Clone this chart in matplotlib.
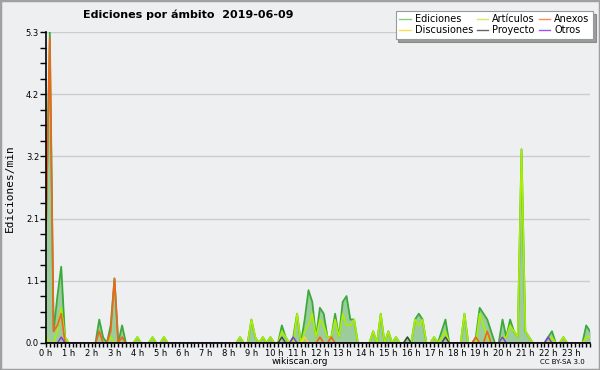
import matplotlib
matplotlib.use("Agg")
import matplotlib.pyplot as plt
from matplotlib.lines import Line2D
from matplotlib.patches import Rectangle
import numpy as np

# 10-minute bins (values = edits per minute), one row per hour
ediciones = [
    2.0, 5.3, 0.2, 0.8, 1.3, 0.1,
    0, 0, 0, 0, 0, 0,
    0, 0, 0.4, 0.1, 0, 0.3,
    1.1, 0, 0.3, 0, 0, 0,
    0.1, 0, 0, 0, 0.1, 0,
    0, 0.1, 0, 0, 0, 0,
    0, 0, 0, 0, 0, 0,
    0, 0, 0, 0, 0, 0,
    0, 0, 0, 0.1, 0, 0,
    0.4, 0.1, 0, 0.1, 0, 0.1,
    0, 0, 0.3, 0.1, 0, 0.1,
    0.5, 0, 0.4, 0.9, 0.7, 0.1,
    0.6, 0.5, 0.1, 0.1, 0.5, 0.1,
    0.7, 0.8, 0.4, 0.4, 0, 0,
    0, 0, 0.2, 0, 0.5, 0,
    0.2, 0, 0.1, 0, 0, 0.1,
    0, 0.4, 0.5, 0.4, 0, 0,
    0.1, 0, 0.2, 0.4, 0, 0,
    0, 0, 0.5, 0, 0, 0.1,
    0.6, 0.5, 0.4, 0.2, 0, 0,
    0.4, 0.1, 0.4, 0.2, 0.1, 3.3,
    0.2, 0.1, 0, 0, 0, 0,
    0.1, 0.2, 0, 0, 0.1, 0,
    0, 0, 0, 0, 0.3, 0.2,
]
articulos = [
    0.1, 0, 0, 0.2, 0.6, 0.1,
    0, 0, 0, 0, 0, 0,
    0, 0, 0, 0, 0, 0.1,
    0, 0, 0, 0, 0, 0,
    0.1, 0, 0, 0, 0.1, 0,
    0, 0.1, 0, 0, 0, 0,
    0, 0, 0, 0, 0, 0,
    0, 0, 0, 0, 0, 0,
    0, 0, 0, 0.1, 0, 0,
    0.4, 0.1, 0, 0.1, 0, 0.1,
    0, 0, 0.2, 0.1, 0, 0,
    0.5, 0, 0.2, 0.3, 0.5, 0.1,
    0.4, 0.3, 0.1, 0.1, 0.4, 0.1,
    0.5, 0.3, 0.3, 0.4, 0, 0,
    0, 0, 0.2, 0, 0.5, 0,
    0.2, 0, 0.1, 0, 0, 0,
    0, 0.4, 0.3, 0.4, 0, 0,
    0.1, 0, 0.1, 0.2, 0, 0,
    0, 0, 0.5, 0, 0, 0,
    0.5, 0.3, 0.1, 0, 0, 0,
    0.1, 0.1, 0.3, 0.2, 0.1, 3.3,
    0.2, 0.1, 0, 0, 0, 0,
    0, 0.1, 0, 0, 0.1, 0,
    0, 0, 0, 0, 0.1, 0.1,
]
anexos = [
    1.9, 5.2, 0.2, 0.3, 0.5, 0,
    0, 0, 0, 0, 0, 0,
    0, 0, 0.2, 0, 0, 0.2,
    1.1, 0, 0.1, 0, 0, 0,
] + [0] * 48 + [
    0.1, 0, 0, 0.1, 0, 0,
] + [0] * 30 + [
    0, 0, 0, 0, 0, 0.1,
    0, 0, 0.2, 0, 0, 0,
] + [0] * 24
discusiones = [0] * 68 + [0.1] + [0] * 75
proyecto = [0] * 62 + [0.1] + [0] * 32 + [0.1] + [0] * 9 + [0.1] + [0] * 38
otros = ([0] * 4 + [0.1] + [0] * 60 + [0.1] + [0] * 54 + [0.1] + [0] * 11
         + [0.1] + [0] * 11)

hour_labels = [f"{h} h" for h in range(24)]
ytick_labels = ["0.0", "1.1", "2.1", "3.2", "4.2", "5.3"]
ymax = 5.3

t = np.arange(len(ediciones)) / 6.0

bg = "#eeeff1"
fig = plt.figure(figsize=(6, 3.7), dpi=100, facecolor=bg)
ax = fig.add_axes([46 / 600, 27 / 370, 544 / 600, 311 / 370])
ax.set_facecolor(bg)

ax.fill_between(t, ediciones, 0, color="#9ccb9c", lw=0, zorder=1)
ax.plot(t, ediciones, color="#3aab3a", lw=1.3, zorder=2)
ax.plot(t, articulos, color="#aaee00", lw=1.2, zorder=2.1)
ax.plot(t, anexos, color="#f2661a", lw=1.2, zorder=2.2)
ax.plot(t, discusiones, color="#ffd633", lw=1.1, zorder=2.3)
ax.plot(t, proyecto, color="#444444", lw=1.0, zorder=2.4)
ax.plot(t, otros, color="#8a33e0", lw=1.0, zorder=2.5)

ax.set_xlim(0, t[-1])
ax.set_ylim(0, ymax)

yt = np.linspace(0, ymax, 6)
ax.set_yticks(yt)
ax.set_yticklabels(ytick_labels, fontsize=6)
ax.set_yticks(np.linspace(0, ymax, 21), minor=True)
ax.set_xticks(np.arange(24))
ax.set_xticklabels(hour_labels, fontsize=6)
ax.set_xticks(t, minor=True)
ax.tick_params(axis="both", which="both", direction="out", length=3, width=1,
               colors="black", pad=1)
ax.tick_params(axis="y", which="both", length=4, pad=1)
ax.grid(axis="y", which="major", color="#cccccc", lw=1)
ax.set_axisbelow(True)
for s in ("top", "right"):
    ax.spines[s].set_visible(False)
for s in ("left", "bottom"):
    ax.spines[s].set_linewidth(1.2)
    ax.spines[s].set_zorder(5)

fig.text(188 / 600, 1 - 15 / 370, "Ediciones por ámbito  2019-06-09",
         ha="center", va="center", fontsize=8, fontweight="bold")
fig.text(10 / 600, 1 - 188 / 370, "Ediciones/min", rotation=90, ha="center",
         va="center", fontsize=8, family="DejaVu Sans Mono")
fig.text(300 / 600, 1 - 362 / 370, "wikiscan.org", ha="center", va="center",
         fontsize=6.5)
fig.text(562 / 600, 1 - 362 / 370, "CC BY-SA 3.0", ha="center", va="center",
         fontsize=5)

handles = [
    Line2D([], [], color="#88cc88", lw=1),
    Line2D([], [], color="#ffdd55", lw=1),
    Line2D([], [], color="#ccee66", lw=1),
    Line2D([], [], color="#666666", lw=1),
    Line2D([], [], color="#ff8855", lw=1),
    Line2D([], [], color="#9955ee", lw=1),
]
labels = ["Ediciones", "Discusiones", "Artículos", "Proyecto", "Anexos", "Otros"]
leg = fig.legend(handles, labels, ncol=3, loc="upper right",
                 bbox_to_anchor=(593 / 600, 1 - 11 / 370), fontsize=7,
                 frameon=True, fancybox=False, shadow=True, handlelength=1.2,
                 handletextpad=0.4, columnspacing=0.4, labelspacing=0.1,
                 borderpad=0.35, borderaxespad=0)
leg.get_frame().set_edgecolor("#999999")
leg.get_frame().set_linewidth(0.8)

fig.patches.append(Rectangle((0, 0), 1, 1, transform=fig.transFigure,
                             fill=False, edgecolor="#a0a0a0", lw=2.5))

fig.savefig("out.png", dpi=100, facecolor=bg)
